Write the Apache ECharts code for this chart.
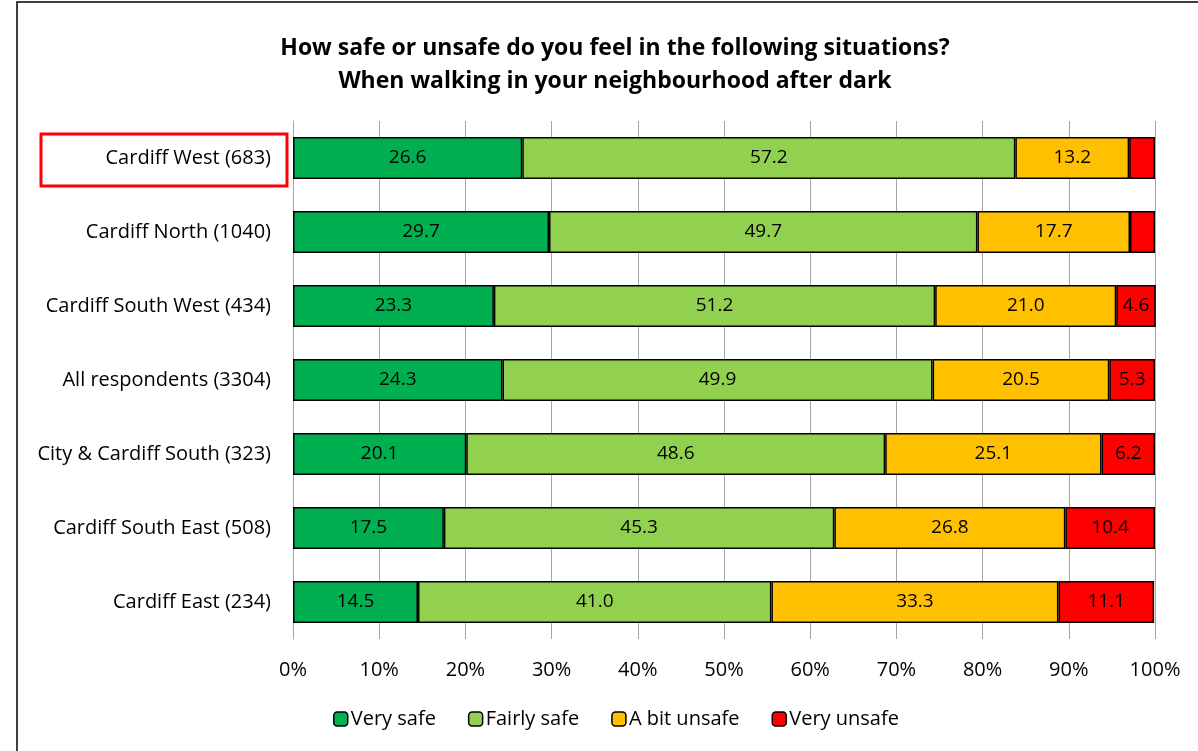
<!DOCTYPE html>
<html><head><meta charset="utf-8">
<script src="https://cdn.jsdelivr.net/npm/echarts@6/dist/echarts.min.js"></script>
<style>html,body{margin:0;padding:0;background:#fff}#c{width:1198px;height:751px}</style>
</head><body><div id="c"></div>
<script>
var categories = ['Cardiff West (683)','Cardiff North (1040)','Cardiff South West (434)','All respondents (3304)','City & Cardiff South (323)','Cardiff South East (508)','Cardiff East (234)'];
var verySafe = [26.6, 29.7, 23.3, 24.3, 20.1, 17.5, 14.5];
var fairlySafe = [57.2, 49.7, 51.2, 49.9, 48.6, 45.3, 41.0];
var bitUnsafe = [13.2, 17.7, 21.0, 20.5, 25.1, 26.8, 33.3];
var veryUnsafe = [3.0, 2.9, 4.6, 5.3, 6.2, 10.4, 11.1];
var xTicks = [0,10,20,30,40,50,60,70,80,90,100];

var FONT = 'Open Sans';
function mk(name, data, color){
  return {
    name: name, type: 'bar', stack: 'a', data: data, barCategoryGap: '43%',
    itemStyle: {color: color, borderColor: '#000', borderWidth: 1.5},
    label: {show: true, position: 'inside', color: '#000', fontSize: 19, fontFamily: FONT,
      formatter: function(p){ return p.value < 4 ? '' : p.value.toFixed(1); }}
  };
}
var chart = echarts.init(document.getElementById('c'));
chart.setOption({
  animation: false,
  title: {text: 'How safe or unsafe do you feel in the following situations?\nWhen walking in your neighbourhood after dark',
    left: 610, top: 27, textAlign: 'center',
    textStyle: {fontFamily: FONT, fontWeight: 'bold', fontSize: 23, lineHeight: 33, color: '#000'}},
  grid: {left: 293, right: 43, top: 121, bottom: 112, containLabel: false},
  legend: {bottom: 17, left: 328, itemWidth: 14, itemHeight: 14, itemGap: 32,
    textStyle: {fontFamily: FONT, fontSize: 20, color: '#000', padding: [0,0,0,-2]},
    itemStyle: {borderColor: '#000', borderWidth: 1.5},
    data: ['Very safe','Fairly safe','A bit unsafe','Very unsafe']},
  xAxis: {type: 'value', min: 0, max: 100, interval: 10,
    axisLine: {show: false}, axisTick: {show: false},
    splitLine: {lineStyle: {color: '#a6a6a6', width: 1}},
    axisLabel: {fontFamily: FONT, fontSize: 20, color: '#000', margin: 21,
      formatter: function(v){ return xTicks.indexOf(v) >= 0 ? v + '%' : ''; }}},
  yAxis: {type: 'category', data: categories, inverse: true,
    axisLine: {lineStyle: {color: '#a6a6a6'}}, axisTick: {show: false},
    axisLabel: {fontFamily: FONT, fontSize: 20, color: '#000', margin: 22}},
  series: [mk('Very safe', verySafe, '#00B050'), mk('Fairly safe', fairlySafe, '#92D050'),
           mk('A bit unsafe', bitUnsafe, '#FFC000'), mk('Very unsafe', veryUnsafe, '#FF0000')],
  graphic: [
    {type: 'rect', shape: {x: 17, y: 2, width: 1200, height: 760}, style: {fill: 'none', stroke: '#000', lineWidth: 1.5}, silent: true},
    {type: 'rect', shape: {x: 41, y: 134, width: 246, height: 52}, style: {fill: 'none', stroke: '#FF0000', lineWidth: 3}, silent: true}
  ]
});
</script></body></html>
